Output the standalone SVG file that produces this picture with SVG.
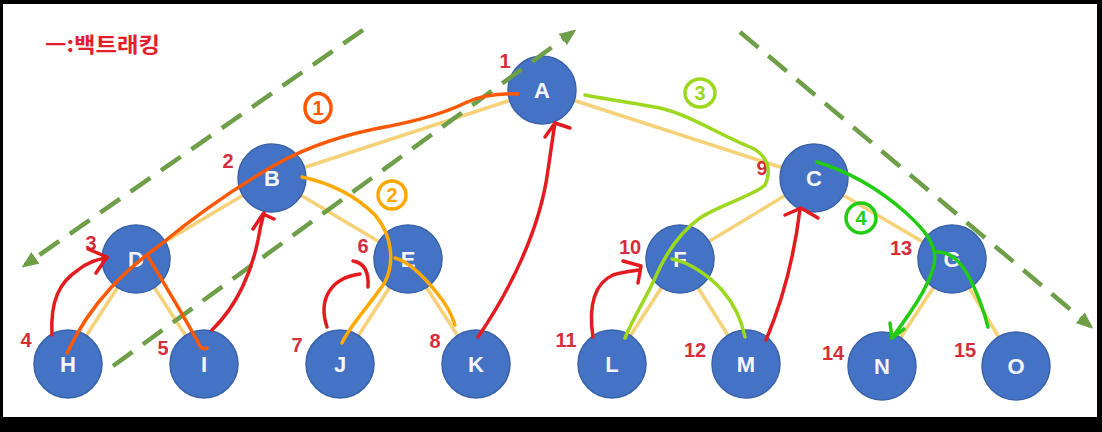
<svg xmlns="http://www.w3.org/2000/svg" width="1102" height="432" viewBox="0 0 1102 432">
<defs>
<style>
.node circle{fill:#4472C4;stroke:#3A62A8;stroke-width:1.5}
.node .l{fill:#F4F6FA;font-family:"Liberation Sans",Arial,sans-serif;font-weight:bold;font-size:22px;text-anchor:middle}
.num{fill:#D52D3C;font-family:"Liberation Sans",Arial,sans-serif;font-weight:bold;font-size:20px;text-anchor:middle}
.edge{stroke:#F2C555;stroke-width:3.5;stroke-opacity:.8;fill:none}
.dash{stroke:#6E9F48;stroke-width:4.5;fill:none;stroke-dasharray:24 13}
.hd{fill:none;stroke-width:3.5;stroke-linecap:round;stroke-linejoin:round}
.red{stroke:#E31B1F}
.o1{stroke:#FF5800}
.o2{stroke:#FFA800}
.g3{stroke:#9BD81E}
.g4{stroke:#22CC10}
.lbl{font-family:"Liberation Sans",Arial,sans-serif;font-weight:bold;font-size:20px;text-anchor:middle}
</style>
<marker id="ah" viewBox="0 0 12 10" markerWidth="17" markerHeight="14" refX="9" refY="5" markerUnits="userSpaceOnUse" orient="auto">
<path d="M0,0 L12,5 L0,10 z" fill="#6E9F48"/>
</marker>
</defs>
<rect x="0" y="0" width="1102" height="432" fill="#000"/>
<rect x="3" y="4" width="1094" height="413" fill="#fff"/>

<g id="connectors">
<line class="edge" x1="542" y1="90" x2="272" y2="178"/>
<line class="edge" x1="542" y1="90" x2="814" y2="178"/>
<line class="edge" x1="272" y1="178" x2="136" y2="259"/>
<line class="edge" x1="272" y1="178" x2="408" y2="259"/>
<line class="edge" x1="814" y1="178" x2="680" y2="259"/>
<line class="edge" x1="814" y1="178" x2="952" y2="259"/>
<line class="edge" x1="136" y1="259" x2="68" y2="364"/>
<line class="edge" x1="136" y1="259" x2="204" y2="364"/>
<line class="edge" x1="408" y1="259" x2="340" y2="364"/>
<line class="edge" x1="408" y1="259" x2="476" y2="364"/>
<line class="edge" x1="680" y1="259" x2="612" y2="364"/>
<line class="edge" x1="680" y1="259" x2="746" y2="364"/>
<line class="edge" x1="952" y1="259" x2="882" y2="366"/>
<line class="edge" x1="952" y1="259" x2="1016" y2="366"/>
</g>

<g id="node-A" class="node"><circle cx="542" cy="90" r="34"/><text class="l" x="542" y="98">A</text><text class="num" x="505" y="68">1</text></g>
<g id="node-B" class="node"><circle cx="272" cy="178" r="34"/><text class="l" x="272" y="186">B</text><text class="num" x="228" y="168">2</text></g>
<g id="node-C" class="node"><circle cx="814" cy="178" r="34"/><text class="l" x="814" y="186">C</text><text class="num" x="762" y="175">9</text></g>
<g id="node-D" class="node"><circle cx="136" cy="259" r="34"/><text class="l" x="136" y="267">D</text><text class="num" x="91" y="250">3</text></g>
<g id="node-E" class="node"><circle cx="408" cy="259" r="34"/><text class="l" x="408" y="267">E</text><text class="num" x="363" y="253">6</text></g>
<g id="node-F" class="node"><circle cx="680" cy="259" r="34"/><text class="l" x="680" y="267">F</text><text class="num" x="630" y="254">10</text></g>
<g id="node-G" class="node"><circle cx="952" cy="259" r="34"/><text class="l" x="952" y="267">G</text><text class="num" x="901" y="255">13</text></g>
<g id="node-H" class="node"><circle cx="68" cy="364" r="34"/><text class="l" x="68" y="372">H</text><text class="num" x="26" y="347">4</text></g>
<g id="node-I" class="node"><circle cx="204" cy="364" r="34"/><text class="l" x="204" y="372">I</text><text class="num" x="163" y="355">5</text></g>
<g id="node-J" class="node"><circle cx="340" cy="364" r="34"/><text class="l" x="340" y="372">J</text><text class="num" x="297" y="352">7</text></g>
<g id="node-K" class="node"><circle cx="476" cy="364" r="34"/><text class="l" x="476" y="372">K</text><text class="num" x="435" y="348">8</text></g>
<g id="node-L" class="node"><circle cx="612" cy="364" r="34"/><text class="l" x="612" y="372">L</text><text class="num" x="566" y="347">11</text></g>
<g id="node-M" class="node"><circle cx="746" cy="364" r="34"/><text class="l" x="746" y="372">M</text><text class="num" x="695" y="357">12</text></g>
<g id="node-N" class="node"><circle cx="882" cy="366" r="34"/><text class="l" x="882" y="374">N</text><text class="num" x="833" y="360">14</text></g>
<g id="node-O" class="node"><circle cx="1016" cy="366" r="34"/><text class="l" x="1016" y="374">O</text><text class="num" x="965" y="357">15</text></g>

<g id="guides">
<line class="dash" x1="363" y1="30" x2="25" y2="265" marker-end="url(#ah)"/>
<line class="dash" x1="113" y1="366" x2="573" y2="32" marker-end="url(#ah)"/>
<line class="dash" x1="740" y1="32" x2="1090" y2="326" marker-end="url(#ah)"/>
</g>

<g id="traversal">
<path class="hd o1" d="M518,94 C495,93 480,96 465,103 C445,113 420,120 390,126 C350,133 310,145 275,165 C240,185 200,212 160,245 C128,268 92,300 67,353"/>
<path class="hd o1" d="M147,255 C165,285 185,318 200,346 C202,349 205,349 207,348"/>
<path class="hd o2" d="M302,177 C330,183 355,195 375,215 C392,235 395,262 385,282 C370,305 350,325 342,343"/>
<path class="hd o2" d="M395,258 C410,262 425,278 437,293 C447,305 452,315 455,325"/>
<path class="hd g3" d="M585,95 C610,100 640,104 660,108 C690,115 720,135 750,147 C768,155 772,170 765,185 C755,195 720,205 700,218 C680,232 665,255 655,278 C645,300 632,320 625,338"/>
<path class="hd g3" d="M672,259 C690,262 710,277 722,290 C735,305 742,322 745,337"/>
<path class="hd g4" d="M817,162 C850,172 880,190 905,212 C925,230 938,245 934,265 C928,290 905,320 892,338"/>
<path class="hd g4" d="M890,323 L892,338 L904,329"/>
<path class="hd g4" d="M937,252 C955,252 965,268 973,285 C980,300 985,315 988,327"/>
<ellipse cx="318" cy="108" rx="13" ry="14.5" fill="none" stroke="#FF5800" stroke-width="3.5"/>
<text class="lbl" x="318" y="115" fill="#FF5800">1</text>
<ellipse cx="392" cy="195" rx="14" ry="14" fill="none" stroke="#FFA800" stroke-width="3.5"/>
<text class="lbl" x="392" y="202" fill="#FFA800">2</text>
<ellipse cx="700" cy="93" rx="15" ry="14" fill="none" stroke="#9BD81E" stroke-width="3.5"/>
<text class="lbl" x="700" y="100" fill="#9BD81E">3</text>
<ellipse cx="861" cy="218" rx="15" ry="15" fill="none" stroke="#22CC10" stroke-width="3.5"/>
<text class="lbl" x="861" y="225" fill="#22CC10">4</text>
</g>

<g id="backtrack">
<path class="hd red" d="M52,335 C50,300 60,282 78,270 C88,262 97,259 107,258"/>
<path class="hd red" d="M88,249 L107,257 L96,273"/>
<path class="hd red" d="M212,330 C238,305 252,270 258,240 C260,228 262,220 264,213"/>
<path class="hd red" d="M253,229 L263,214 L274,219"/>
<path class="hd red" d="M327,327 C318,300 330,278 360,274"/>
<path class="hd red" d="M353,261 C365,263 369,272 368,287"/>
<path class="hd red" d="M478,337 C510,290 540,230 548,170 C551,150 553,135 555,123"/>
<path class="hd red" d="M545,137 L555,123 L570,128"/>
<path class="hd red" d="M593,337 C588,305 595,283 613,275 C622,272 632,271 640,270"/>
<path class="hd red" d="M623,261 L641,266 L638,283"/>
<path class="hd red" d="M766,340 C785,295 795,250 800,209"/>
<path class="hd red" d="M785,215 L801,208 L818,218"/>
</g>

<text x="45" y="52" fill="#E3202A" font-family="'Noto Sans CJK KR','Noto Sans',sans-serif" font-weight="bold" font-size="21" textLength="115" lengthAdjust="spacingAndGlyphs">ㅡ:백트래킹</text>
</svg>
